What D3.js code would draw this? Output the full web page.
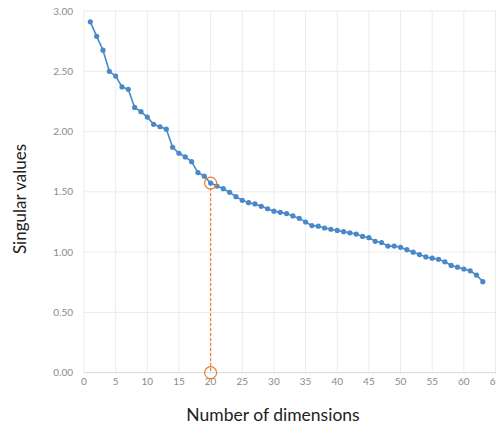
<!DOCTYPE html>
<html><head><meta charset="utf-8">
<script src="https://cdn.jsdelivr.net/npm/d3@7"></script>
<style>body{margin:0;background:#fff}svg{display:block}</style>
</head><body>
<svg id="c" width="496" height="427"></svg>
<script>
const singularValues = [2.91,2.79,2.675,2.50,2.46,2.37,2.35,2.20,2.165,2.12,
  2.06,2.04,2.02,1.87,1.82,1.79,1.75,1.66,1.63,1.573,
  1.548,1.526,1.496,1.46,1.43,1.41,1.40,1.38,1.36,1.34,
  1.33,1.32,1.30,1.28,1.25,1.22,1.215,1.20,1.19,1.18,
  1.17,1.16,1.15,1.13,1.12,1.09,1.08,1.05,1.05,1.04,
  1.02,1.00,0.98,0.96,0.95,0.94,0.92,0.89,0.875,0.86,
  0.845,0.81,0.755];
const dimensions = singularValues.map((_, i) => i + 1);
const xTicks = [0,5,10,15,20,25,30,35,40,45,50,55,60,65];
const yTicks = [0,0.5,1,1.5,2,2.5,3];
const markedDimension = 20;
const xLabel = "Number of dimensions";
const yLabel = "Singular values";

const svg = d3.select("#c");
const x = d3.scaleLinear().domain([0, 65]).range([84, 495.5]);
const y = d3.scaleLinear().domain([0, 3]).range([372.7, 11]);
const font = "Lato, 'Open Sans', sans-serif";

// gridlines
svg.append("g").selectAll("line").data(xTicks).join("line")
  .attr("x1", d => x(d)).attr("x2", d => x(d))
  .attr("y1", y(3)).attr("y2", y(0))
  .attr("stroke", "#ebebeb").attr("stroke-width", 1);
svg.append("g").selectAll("line").data(yTicks.filter(d => d > 0)).join("line")
  .attr("x1", x(0)).attr("x2", 496)
  .attr("y1", d => y(d)).attr("y2", d => y(d))
  .attr("stroke", "#ebebeb").attr("stroke-width", 1);
svg.append("line").attr("x1", x(0)).attr("x2", 496)
  .attr("y1", y(0)).attr("y2", y(0)).attr("stroke", "#d9d9d9");

// tick labels
svg.append("g").selectAll("text").data(yTicks).join("text")
  .attr("x", 73).attr("y", d => y(d)).attr("dy", "0.35em")
  .attr("text-anchor", "end").attr("font-family", font)
  .attr("font-size", 10).attr("fill", "#8a8a8a")
  .text(d => d.toFixed(2));
svg.append("g").selectAll("text").data(xTicks).join("text")
  .attr("x", d => x(d)).attr("y", 381).attr("dy", "0.35em")
  .attr("text-anchor", "middle").attr("font-family", font)
  .attr("font-size", 10).attr("fill", "#8a8a8a")
  .text(d => d);

// axis titles
svg.append("text").attr("x", 273).attr("y", 415).attr("dy", "0.35em")
  .attr("text-anchor", "middle").attr("font-family", font)
  .attr("font-size", 17.5).attr("fill", "#222").text(xLabel);
svg.append("text").attr("transform", "translate(20,199) rotate(-90)").attr("dy", "0.35em")
  .attr("text-anchor", "middle").attr("font-family", font)
  .attr("font-size", 17).attr("fill", "#222").text(yLabel);

// reference line
const mv = singularValues[markedDimension - 1];
svg.append("line").attr("x1", x(markedDimension)).attr("x2", x(markedDimension))
  .attr("y1", y(mv)).attr("y2", y(0))
  .attr("stroke", "#ed7d31").attr("stroke-width", 1.2).attr("stroke-dasharray", "3,2");

// series
const line = d3.line().x((d, i) => x(dimensions[i])).y(d => y(d));
svg.append("path").datum(singularValues).attr("d", line)
  .attr("fill", "none").attr("stroke", "#4a89c8").attr("stroke-width", 1.6);
svg.append("g").selectAll("circle").data(singularValues).join("circle")
  .attr("cx", (d, i) => x(dimensions[i])).attr("cy", d => y(d)).attr("r", 2.6)
  .attr("fill", "#4a89c8");

// marker circles
svg.append("g").selectAll("circle").data([mv, 0]).join("circle")
  .attr("cx", x(markedDimension)).attr("cy", d => y(d)).attr("r", 6)
  .attr("fill", "none").attr("stroke", "#ed7d31").attr("stroke-width", 1.2);
</script>
</body></html>
